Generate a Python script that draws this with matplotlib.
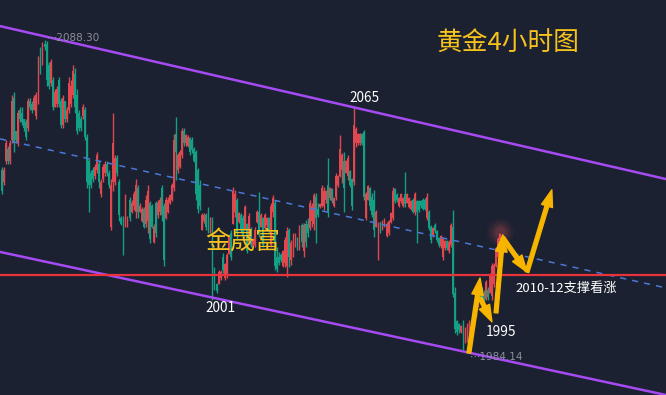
import matplotlib
matplotlib.use('Agg')
import matplotlib.pyplot as plt
from matplotlib.patches import FancyArrowPatch
import numpy as np

# ---------------- data (gold, 4h candles) ----------------
opens = [2045, 2041, 2048, 2052, 2048, 2055, 2069, 2058, 2054, 2065,
         2064, 2062, 2061, 2059, 2068, 2067, 2065, 2063, 2068, 2083,
         2080, 2087, 2087, 2080, 2074, 2075, 2066, 2067, 2075, 2068,
         2060, 2068, 2062, 2065, 2067, 2070, 2077, 2070, 2064, 2062,
         2063, 2065, 2056, 2048, 2044, 2045, 2043, 2045, 2047, 2037,
         2042, 2044, 2047, 2044, 2026, 2041, 2041, 2049, 2041, 2029,
         2029, 2026, 2026, 2035, 2031, 2033, 2031, 2039, 2031, 2028,
         2032, 2027, 2028, 2034, 2033, 2021, 2034, 2030, 2031, 2039,
         2033, 2029, 2031, 2034, 2035, 2039, 2057, 2045, 2046, 2050,
         2058, 2054, 2053, 2055.5, 2055, 2052, 2051, 2045, 2040, 2025,
         2028, 2030, 2031, 2025, 2029, 2012, 2007, 2007, 2009, 2016,
         2009, 2010, 2017, 2024, 2027, 2031, 2035, 2027.5, 2030, 2029,
         2025, 2027, 2021, 2025, 2019.5, 2020, 2027.5, 2031, 2026, 2029,
         2025.5, 2026.5, 2029, 2020, 2031, 2034, 2016, 2016, 2016.5, 2013,
         2014, 2013, 2025, 2015, 2018, 2020.5, 2022, 2019.5, 2026.5, 2018,
         2027, 2027, 2025.5, 2028, 2027, 2036, 2032, 2032.5, 2033, 2033,
         2035, 2040, 2035.5, 2038.5, 2033, 2036, 2040, 2043, 2045, 2048,
         2044, 2043, 2044.5, 2042, 2041, 2054, 2054, 2054, 2057, 2057.5,
         2029, 2035, 2039, 2036, 2035, 2026, 2024.5, 2027.5, 2025, 2026,
         2023, 2024, 2027.5, 2029, 2038.5, 2036.5, 2033, 2034.5, 2033, 2037,
         2034, 2032.5, 2032, 2035, 2031, 2034.5, 2034.5, 2034.5, 2035, 2035,
         2029, 2031, 2026, 2023, 2026.5, 2024.5, 2022.3, 2019.5, 2016, 2019,
         2021.3, 2018, 2020, 2026, 2004, 1994.5, 1993.5, 1991, 1994.5, 1988,
         1989, 1990, 1994, 1993, 1997, 2000, 2003.5, 2005, 2004, 2002,
         2005, 2004, 2003, 2007, 2013, 2016, 2021.5]
highs = [2046, 2046, 2055, 2053, 2055, 2070, 2071, 2058, 2065, 2066,
         2066, 2062, 2062, 2069, 2069, 2068, 2070, 2071, 2083, 2086,
         2087.5, 2088.3, 2088, 2081, 2082, 2076, 2072, 2073, 2076, 2069,
         2070, 2068, 2066, 2076, 2075, 2080, 2079, 2072, 2065, 2063,
         2067, 2066, 2057, 2049, 2045, 2046, 2047, 2051, 2048, 2042,
         2047, 2048, 2048, 2045, 2042, 2064, 2050, 2050, 2042, 2029.5,
         2029.5, 2037, 2029.5, 2036, 2035, 2038, 2042, 2040, 2034, 2032.5,
         2032.5, 2036.5, 2040, 2034.5, 2033.5, 2027, 2034.5, 2035, 2036, 2040,
         2034, 2036, 2036, 2037, 2040.5, 2057, 2062.5, 2050.5, 2051.5, 2059,
         2059, 2057, 2056.5, 2056, 2056, 2052.5, 2051.5, 2045.5, 2041.5, 2030.5,
         2030.5, 2030.5, 2032.5, 2029.3, 2029.3, 2012.6, 2007.3, 2011.6, 2011.6, 2017.3,
         2013.9, 2017.3, 2023.3, 2025, 2039.3, 2038.3, 2035.6, 2030.9, 2030.6, 2029.9,
         2033.3, 2027.3, 2030.6, 2025.9, 2022.3, 2025.9, 2031.6, 2037.6, 2030.6, 2029.3,
         2030.6, 2029.3, 2029.3, 2033.9, 2036.6, 2034.9, 2019.3, 2017.6, 2017.3, 2018.3,
         2022.6, 2025.9, 2025.6, 2021.6, 2023.9, 2023.9, 2022.6, 2026.6, 2027.3, 2027.3,
         2028.3, 2028.9, 2034.9, 2033.9, 2037.3, 2037.3, 2033.9, 2033.9, 2039.9, 2039.3,
         2038.3, 2048.9, 2039.3, 2038.9, 2035.9, 2043.9, 2043.3, 2056.6, 2050.6, 2050.9,
         2048.3, 2049.9, 2044.9, 2042.3, 2065.5, 2059.3, 2057.3, 2057.3, 2057.3, 2058.3,
         2037.6, 2039.9, 2039.3, 2037.3, 2038.3, 2031.6, 2027.6, 2027.6, 2028.3, 2028.9,
         2027.6, 2028.3, 2030.9, 2039.3, 2038.9, 2037.3, 2035.9, 2037.3, 2035.9, 2044.3,
         2037.3, 2035.9, 2034.9, 2035.6, 2037.6, 2034.9, 2034.9, 2034.9, 2035.6, 2035.6,
         2037.3, 2031.6, 2026.6, 2025.9, 2027.3, 2024.9, 2022.6, 2023.3, 2022.3, 2021.6,
         2021.6, 2021.6, 2027.3, 2031.6, 2005.9, 1994.9, 1993.9, 1993.3, 1994.9, 1992.6,
         1993.9, 1994.9, 1994.9, 1999.3, 2005.9, 2007.3, 2003.9, 2005.9, 2004.9, 2008.3,
         2005.9, 2010.6, 2013.9, 2013.9, 2019.3, 2022.6, 2023.9]
lows = [2037, 2040, 2047, 2047, 2047, 2054, 2051, 2054, 2053, 2061,
        2060, 2058, 2055, 2058, 2065, 2064, 2065, 2062, 2067, 2077,
        2080, 2085, 2073, 2072, 2073, 2065, 2066, 2066, 2066, 2059,
        2059, 2061, 2061, 2064, 2066, 2069, 2064, 2057, 2058, 2058,
        2062, 2055, 2039, 2031, 2039, 2041, 2042, 2044, 2039, 2036,
        2041, 2043, 2043, 2039, 2025, 2038, 2040, 2043, 2028, 2026.5,
        2016.5, 2026, 2026, 2028, 2030.5, 2031.5, 2029, 2029, 2031, 2027.5,
        2025.5, 2026, 2024, 2020.5, 2025.5, 2020.5, 2022.5, 2029, 2030, 2028,
        2013, 2028.5, 2030.5, 2033.5, 2034.5, 2038, 2041.5, 2044, 2045.5, 2049,
        2053, 2053, 2052.5, 2050, 2050.5, 2047.5, 2035, 2030.5, 2031.5, 2025,
        2027.3, 2025, 2024, 2024, 2001.5, 2005, 2003.9, 2007, 2008.3, 2010.6,
        2008.3, 2009, 2017, 2015, 2027, 2029.3, 2021.6, 2027.3, 2024, 2022.3,
        2025, 2017.3, 2020.6, 2019.3, 2019.3, 2019.3, 2027.3, 2022.6, 2025.9, 2019.3,
        2025, 2025.9, 2023.9, 2019.3, 2029.3, 2011.6, 2010.9, 2013.3, 2014.3, 2012.6,
        2012.6, 2009.3, 2012.6, 2013.3, 2015.9, 2019.3, 2018.3, 2018.3, 2019.3, 2015.9,
        2019.3, 2022.6, 2024.9, 2025.9, 2024.9, 2020.6, 2029.3, 2032.3, 2032.6, 2031.6,
        2033.9, 2029.3, 2034.9, 2033.9, 2032.6, 2034.9, 2039.3, 2042.6, 2040.6, 2030.9,
        2043.9, 2041.6, 2039.3, 2031.6, 2040, 2052.6, 2053.3, 2053.3, 2053.3, 2034.9,
        2028.3, 2034.9, 2031.6, 2029.3, 2022.6, 2025.9, 2014.9, 2023.9, 2024.9, 2025.9,
        2022.6, 2023.3, 2027.3, 2028.3, 2033.9, 2034.3, 2032.6, 2033.9, 2032.6, 2032.6,
        2033.9, 2032.3, 2031.6, 2030.6, 2029.9, 2020.6, 2030.9, 2032.3, 2031.6, 2031.6,
        2028.3, 2024.9, 2020.6, 2022.6, 2023.9, 2020.9, 2019.3, 2018.9, 2014.9, 2018.3,
        2018.3, 2017.3, 2019.3, 2002.6, 1990.6, 1989.9, 1990.6, 1990.6, 1984.9, 1987.3,
        1987.6, 1984.14, 1991.6, 1992.6, 1995.9, 1999.3, 2000.9, 1999.3, 2000.9, 2001.6,
        2001.6, 2003.9, 2001.6, 2005.9, 2012.6, 2014.9, 2020.6]
closes = [2038, 2045, 2054, 2048, 2054, 2068, 2054, 2055, 2064, 2062,
          2061, 2059, 2056, 2068, 2066, 2065, 2069, 2070, 2081, 2078,
          2087, 2086, 2075, 2073, 2081, 2066, 2071, 2072, 2067, 2060,
          2069, 2062, 2065, 2074, 2073, 2078, 2066, 2058, 2059, 2059,
          2066, 2056, 2041, 2040, 2040, 2042, 2046, 2050, 2041, 2041,
          2046, 2047, 2044, 2040, 2040, 2054, 2049, 2044, 2030, 2027,
          2018, 2035, 2029, 2029, 2034, 2037, 2040, 2031, 2033, 2032,
          2026, 2035, 2038, 2022, 2026, 2026, 2024, 2034, 2035, 2030,
          2015, 2035, 2035, 2036.5, 2040, 2055, 2051, 2050, 2051, 2058,
          2054, 2056.5, 2056, 2051, 2051.5, 2048, 2037, 2032, 2033, 2030,
          2030, 2026, 2025, 2028.5, 2008, 2006, 2004.5, 2011, 2011, 2011.5,
          2013.5, 2016.5, 2022.5, 2016, 2038, 2037, 2024, 2030.5, 2025, 2023,
          2032.5, 2018, 2029.5, 2020, 2022, 2025, 2031, 2024, 2030, 2020,
          2030, 2029, 2024.5, 2033, 2035.5, 2013, 2012, 2014, 2015, 2018,
          2021.5, 2024.5, 2016, 2020.5, 2023, 2023.5, 2019, 2026, 2021, 2026.5,
          2021, 2024, 2034, 2033, 2036.5, 2029, 2030, 2033.6, 2039, 2038,
          2038, 2031, 2039, 2034.5, 2035.5, 2043, 2043, 2052, 2050, 2039,
          2048, 2049, 2040, 2033, 2060, 2058.5, 2057, 2057, 2054, 2036,
          2037, 2039.5, 2033, 2030, 2025, 2031, 2027.3, 2024.5, 2028, 2028.5,
          2027, 2028, 2030.5, 2038, 2034.5, 2035, 2035.5, 2037, 2035.5, 2033.5,
          2037, 2035.5, 2034.5, 2031, 2037, 2031, 2031.5, 2033, 2032, 2032,
          2036, 2025.5, 2021.5, 2025.5, 2024.5, 2021.5, 2020, 2023, 2022, 2021.3,
          2019, 2021, 2026.5, 2003.5, 1992, 1991, 1991.5, 1993, 1987, 1992,
          1993, 1993.5, 1992, 1998.5, 2005, 2006.5, 2001.5, 2000, 2001.5, 2007.5,
          2002.5, 2010, 2013, 2013.3, 2019, 2022, 2023.5]

support_level = 2010.0
upper_channel = ([-0.99, 328.1], [2092.9, 2041.9])
lower_channel = ([-0.99, 328.1], [2017.6, 1969.9])
mid_dashed = ([-0.99, 328.1], [2055.3, 2005.6])

# forecast path of the arrows (candle index, price)
arrow_path = [((230.7, 1983.9), (236.2, 2008.9)),
              ((236.2, 2002.3), (242.1, 1994.3)),
              ((244.1, 1997.3), (247.5, 2023.3)),
              ((247.5, 2022.3), (259.4, 2010.9)),
              ((259.4, 2010.9), (271.7, 2038.3))]

# ---------------- drawing ----------------
BG = '#1b2130'
RED = '#e0474f'
GREEN = '#14a085'
GOLD = '#f7c21c'
CJK = ['Noto Sans CJK SC', 'DejaVu Sans']

fig = plt.figure(figsize=(6.66, 3.95), dpi=100)
fig.patch.set_facecolor(BG)
ax = fig.add_axes([0, 0, 1, 1])
ax.set_facecolor(BG)

o = np.array(opens, float)
h = np.array(highs, float)
l = np.array(lows, float)
c = np.array(closes, float)
x = np.arange(len(o))
up = c >= o
cols = np.where(up, RED, GREEN)

ax.vlines(x, l, h, colors=cols, linewidth=1.0, zorder=2)
bottom = np.minimum(o, c)
height = np.maximum(np.abs(c - o), 0.4)
ax.bar(x, height, bottom=bottom, width=0.9, color=cols, linewidth=0, zorder=3)

ax.set_xlim(-0.99, 328.1)
ax.set_ylim(1969.9, 2101.6)
ax.axis('off')

# trend lines
ax.plot(*upper_channel, color='#a64bf4', linewidth=1.8, zorder=4)
ax.plot(*lower_channel, color='#a64bf4', linewidth=1.8, zorder=4)
ax.plot(*mid_dashed, color='#4a78d8', linewidth=1.1, dashes=(4, 4), zorder=4)
ax.axhline(support_level, color='#e8333d', linewidth=1.6, zorder=4)

# glow at the top of the last rally
for s, a in [(380, 0.05), (240, 0.07), (130, 0.09), (60, 0.11)]:
    ax.scatter([246], [2024.3], s=s, color='#ff6060', alpha=a, linewidths=0, zorder=5)

# arrows
for (p0, p1) in arrow_path:
    arr = FancyArrowPatch(p0, p1, arrowstyle='simple,head_length=1.1,head_width=0.75,tail_width=0.25',
                          mutation_scale=11, color='#f7b500', shrinkA=0, shrinkB=0, zorder=6)
    ax.add_patch(arr)

# texts
ax.text(214.9, 2086.9, '黄金4小时图', color=GOLD, fontsize=18.5, family=CJK,
        ha='left', va='center', zorder=7)
ax.text(100.3, 2020.9, '金晟富', color=GOLD, fontsize=18, family=CJK,
        ha='left', va='center', zorder=7)
ax.text(179.3, 2068.8, '2065', color='white', fontsize=9.8, family=CJK,
        ha='center', va='center', zorder=7)
ax.text(108.2, 1998.9, '2001', color='white', fontsize=9.8, family=CJK,
        ha='center', va='center', zorder=7)
ax.text(246.8, 1990.9, '1995', color='white', fontsize=9.8, family=CJK,
        ha='center', va='center', zorder=7)
ax.text(253.5, 2005.6, '2010-12支撑看涨', color='white', fontsize=9.5, family=CJK,
        ha='left', va='center', zorder=7)
ax.text(22.2, 2088.8, '⋯2088.30', color='#8a8f99', fontsize=7.5, family=['DejaVu Sans'],
        ha='left', va='center', zorder=7)
ax.text(231.3, 1982.6, '⋯1984.14', color='#8a8f99', fontsize=7.5, family=['DejaVu Sans'],
        ha='left', va='center', zorder=7)

fig.savefig('out.png', dpi=100, facecolor=BG)
